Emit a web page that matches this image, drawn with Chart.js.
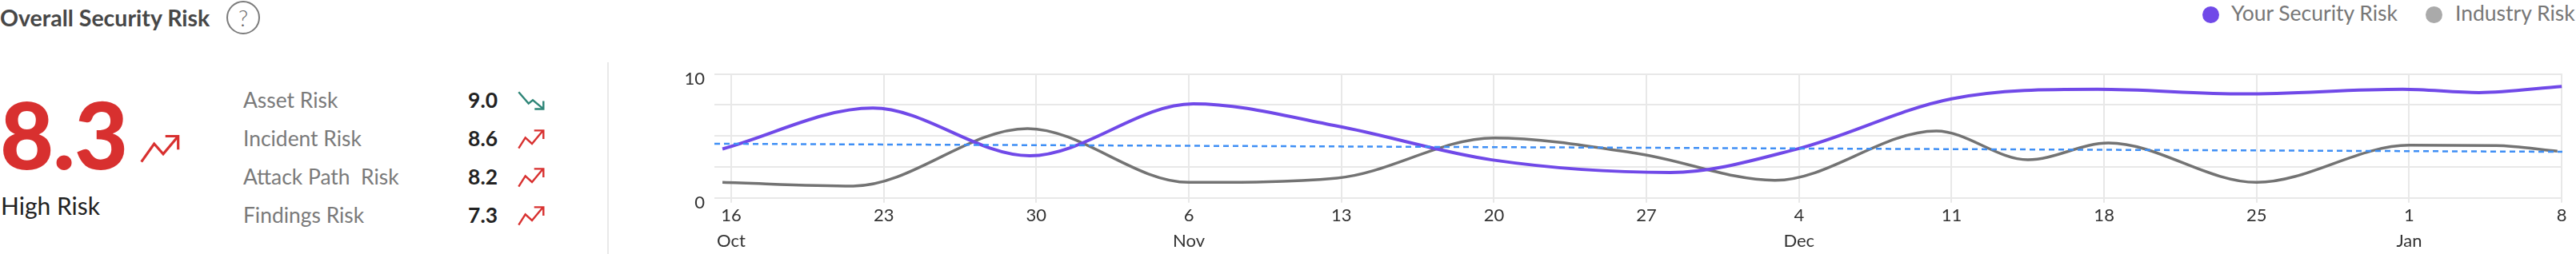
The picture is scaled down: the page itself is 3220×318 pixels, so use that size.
<!DOCTYPE html>
<html>
<head>
<meta charset="utf-8">
<script src="https://cdn.jsdelivr.net/npm/chart.js@4.4.1/dist/chart.umd.min.js"></script>
<style>
  html, body { margin: 0; padding: 0; background: #fff; }
  body { width: 3220px; height: 318px; position: relative; overflow: hidden; font-family: Lato, 'Open Sans', sans-serif; }
  .t { position: absolute; white-space: pre; line-height: 1.2; }
  #title { left: 0; top: 5.2px; font-size: 28.5px; font-weight: 700; color: #474747; }
  #help { position: absolute; left: 283px; top: 1px; width: 38px; height: 38px; border: 2px solid #7b7b7b; border-radius: 50%;
          display: flex; align-items: center; justify-content: center; font-size: 28px; font-weight: 300; color: #666; line-height: 1; }
  #score { left: 0; top: 97.5px; font-size: 116px; font-weight: 900; color: #d8302f; letter-spacing: -1px; }
  #level { left: 1px; top: 238.7px; font-size: 30px; color: #222; }
  .lbl { font-size: 26.4px; color: #7a7a7a; }
  .val { font-size: 26.4px; font-weight: 700; color: #222; text-align: right; width: 80px; }
  #sep { position: absolute; left: 759px; top: 78px; width: 2px; height: 240px; background: #e9e9e9; }
  .dot { position: absolute; width: 21px; height: 21px; border-radius: 50%; top: 8px; }
  .leg { top: 0.5px; font-size: 26.5px; color: #777; }
  #c { position: absolute; left: 760px; top: 0; }
  svg { position: absolute; overflow: visible; }
</style>
</head>
<body>
<div class="t" id="title">Overall Security Risk</div>
<div id="help">?</div>
<div class="t" id="score">8.3</div>
<svg style="left:172px;top:164px" width="56" height="44">
  <polyline points="4.7,38.7 20.7,16 32,28.7 49.7,7.7" fill="none" stroke="#d8302f" stroke-width="3.2"/>
  <polyline points="34.7,6.5 50.7,6.5 50.7,23.3" fill="none" stroke="#d8302f" stroke-width="3.2"/>
</svg>
<div class="t" id="level">High Risk</div>
<div id="rows"></div>
<div id="sep"></div>
<div class="dot" style="left:2753px;background:#7049e8"></div>
<div class="t leg" style="left:2789px">Your Security Risk</div>
<div class="dot" style="left:3032px;background:#aaaaaa"></div>
<div class="t leg" style="left:3069px">Industry Risk</div>
<canvas id="c" width="2460" height="318"></canvas>
<script>
// side panel
const riskNames = ['Asset Risk', 'Incident Risk', 'Attack Path  Risk', 'Findings Risk'];
const riskScores = ['9.0', '8.6', '8.2', '7.3'];
const riskTrend = ['down', 'up', 'up', 'up'];

// chart: x is days since Oct 16
const tickDays = [0, 7, 14, 21, 28, 35, 42, 49, 56, 63, 70, 77, 84];
const tickLabels = [['16', 'Oct'], '23', '30', ['6', 'Nov'], '13', '20', '27', ['4', 'Dec'], '11', '18', '25', ['1', 'Jan'], '8'];
const yourDays = [-0.4, 6.5, 13.7, 21.2, 27.8, 34.9, 43.1, 48.9, 56.0, 62.7, 69.4, 76.7, 80.2, 84.0];
const yourRisk = [3.95, 7.25, 3.4, 7.6, 5.8, 3.07, 2.05, 3.94, 8.0, 8.77, 8.4, 8.77, 8.5, 9.0];
const industryDays = [-0.4, 5.6, 13.6, 21.0, 27.8, 35.0, 41.7, 47.9, 55.3, 59.5, 63.2, 70.0, 77.0, 81.0, 83.8];
const industryRisk = [1.25, 0.95, 5.6, 1.25, 1.6, 4.84, 3.55, 1.42, 5.4, 3.08, 4.43, 1.25, 4.25, 4.22, 3.77];
const trendDays = [-0.77, 84.03];
const trendRisk = [4.37, 3.72];

const rows = document.getElementById('rows');
riskNames.forEach((name, i) => {
  const base = 135.7 + 48 * i;
  const top = base - 26.06;
  const up = riskTrend[i] === 'up';
  const col = up ? '#d8302f' : '#2e8577';
  const line = up ? '2.3,25.7 10.7,12.4 19,20 32.3,4' : '2.3,3.3 14.7,17.6 20,13.3 33.3,24.3';
  const head = up ? '21.7,3.4 33.3,3.4 33.3,14' : '22.3,24.5 33.3,24.5 33.3,14.5';
  rows.insertAdjacentHTML('beforeend',
    `<div class="t lbl" style="left:304px;top:${top}px">${name}</div>` +
    `<div class="t val" style="left:542px;top:${top}px">${riskScores[i]}</div>` +
    `<svg style="left:646px;top:${base - 24}px" width="36" height="28">` +
    `<polyline points="${line}" fill="none" stroke="${col}" stroke-width="2.4"/>` +
    `<polyline points="${head}" fill="none" stroke="${col}" stroke-width="2.4"/></svg>`);
});

const pts = (xs, ys) => xs.map((x, i) => ({ x, y: ys[i] }));

Chart.defaults.font.family = 'Lato';
new Chart(document.getElementById('c'), {
  type: 'line',
  data: {
    datasets: [
      { data: pts(trendDays, trendRisk), borderColor: '#3f8ff5', borderWidth: 2.5, borderDash: [7, 5], pointRadius: 0, tension: 0 },
      { label: 'Your Security Risk', data: pts(yourDays, yourRisk), borderColor: '#7049e8', borderWidth: 4, pointRadius: 0, cubicInterpolationMode: 'monotone' },
      { label: 'Industry Risk', data: pts(industryDays, industryRisk), borderColor: '#737373', borderWidth: 3.5, pointRadius: 0, cubicInterpolationMode: 'monotone' },
    ],
  },
  options: {
    responsive: false,
    animation: false,
    devicePixelRatio: 1,
    layout: { padding: { left: 0, right: 17, top: 92.7, bottom: 0 } },
    plugins: { legend: { display: false }, tooltip: { enabled: false } },
    scales: {
      x: {
        type: 'linear', min: -0.77, max: 84.03,
        afterBuildTicks: (s) => { s.ticks = tickDays.map((v) => ({ value: v })); },
        afterFit: (s) => { s.height = 70.3; },
        ticks: { callback: (v, i) => tickLabels[i], font: { size: 22, lineHeight: 32 / 22 }, color: '#333', padding: 0, maxRotation: 0, autoSkip: false },
        grid: { color: '#e8e8e8', lineWidth: 2, tickLength: 6 },
        border: { display: false },
      },
      y: {
        min: 0, max: 10,
        ticks: { stepSize: 2.5, callback: (v) => (v === 0 || v === 10 ? v : ''), font: { size: 22 }, color: '#333', padding: 12, labelOffset: 6 },
        afterFit: (s) => { s.width = 133; },
        grid: { color: '#e8e8e8', lineWidth: 2, drawTicks: false },
        border: { display: false },
      },
    },
  },
});
</script>
</body>
</html>
